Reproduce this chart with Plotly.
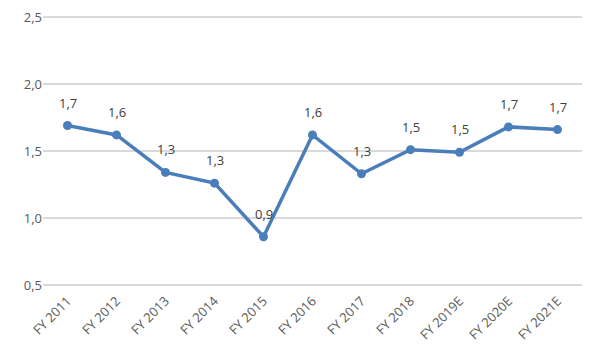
import plotly.graph_objects as go

categories = ["FY 2011", "FY 2012", "FY 2013", "FY 2014", "FY 2015", "FY 2016",
              "FY 2017", "FY 2018", "FY 2019E", "FY 2020E", "FY 2021E"]
values = [1.69, 1.62, 1.34, 1.26, 0.86, 1.62, 1.33, 1.51, 1.49, 1.68, 1.66]
y_ticks = [0.5, 1.0, 1.5, 2.0, 2.5]

fig = go.Figure()
fig.add_trace(go.Scatter(
    x=categories, y=values, mode="lines+markers",
    line=dict(color="#4a7ebb", width=3.5),
    marker=dict(color="#4a7ebb", size=9),
    hoverinfo="skip",
))
for c, v in zip(categories, values):
    fig.add_annotation(x=c, y=v, text=f"{v:.1f}".replace(".", ","), showarrow=False,
                       yshift=23, font=dict(family="Open Sans, sans-serif", size=13, color="#404040"))
fig.update_layout(
    width=592, height=350, separators=",.",
    margin=dict(l=35, r=18, t=4, b=68),
    paper_bgcolor="white", plot_bgcolor="white", showlegend=False,
    font=dict(family="Open Sans, sans-serif", size=12, color="#595959"),
)
fig.update_xaxes(range=[-0.5, 10.5], showgrid=False, showline=False, zeroline=False,
                 tickangle=-45, tickfont=dict(size=13, color="#595959"), ticks="",
                 automargin=False, ticklabeloverflow="allow")
fig.update_yaxes(range=[0.4627, 2.5373], tickvals=y_ticks, tickformat=".1f",
                 showgrid=True, gridcolor="#d9d9d9", gridwidth=1.5, zeroline=False,
                 showline=False, tickfont=dict(size=13, color="#595959"), ticks="",
                 automargin=False, ticklabeloverflow="allow")
fig.write_html("out.html")
